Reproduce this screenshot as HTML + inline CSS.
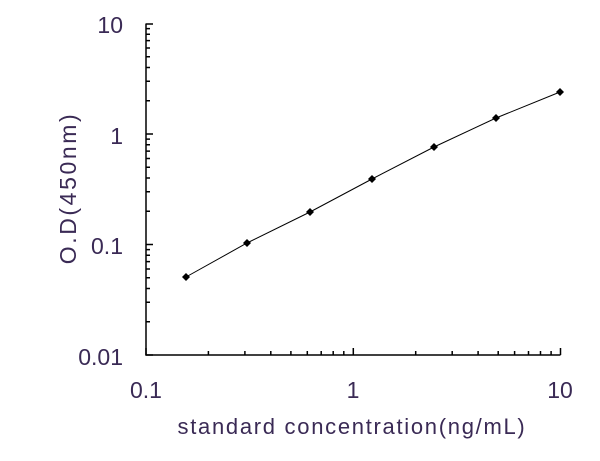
<!DOCTYPE html>
<html><head><style>body{margin:0;background:#fff}svg{display:block}text{font-family:"Liberation Sans",sans-serif;fill:#3a2a55}</style></head>
<body>
<svg width="600" height="461" viewBox="0 0 600 461">
<defs>
<path id="yd" d="M146 0h7M146 -33.3h4M146 -52.7h4M146 -66.5h4M146 -77.2h4M146 -86h4M146 -93.4h4M146 -99.8h4M146 -105.4h4"/>
<path id="xd" d="M0 355v-7M62.4 355v-4M98.9 355v-4M124.8 355v-4M144.9 355v-4M161.3 355v-4M175.2 355v-4M187.2 355v-4M197.8 355v-4"/>
</defs>
<g stroke="#000" stroke-width="1.5" fill="none">
<path d="M146 23.5V355H560.5"/>
<path d="M146 24h7M560.5 355v-7"/>
<use href="#yd" transform="translate(0,355)"/>
<use href="#yd" transform="translate(0,244.5)"/>
<use href="#yd" transform="translate(0,134)"/>
<use href="#xd" transform="translate(146,0)"/>
<use href="#xd" transform="translate(353.3,0)"/>
</g>
<polyline fill="none" stroke="#000" stroke-width="1" points="186,277 247,243 310,212 372,179 434,147 496,118 560,92"/>
<g fill="#000">
<path d="M186 273l4 4-4 4-4-4z"/><path d="M247 239l4 4-4 4-4-4z"/><path d="M310 208l4 4-4 4-4-4z"/><path d="M372 175l4 4-4 4-4-4z"/><path d="M434 143l4 4-4 4-4-4z"/><path d="M496 114l4 4-4 4-4-4z"/><path d="M560 88l4 4-4 4-4-4z"/>
</g>
<g font-size="23" text-anchor="end">
<text x="123" y="33">10</text><text x="123" y="144">1</text><text x="123" y="254">0.1</text><text x="123" y="365">0.01</text>
</g>
<g font-size="23" text-anchor="middle">
<text x="146" y="398">0.1</text><text x="353" y="398">1</text><text x="560" y="398">10</text>
</g>
<text x="352" y="434" font-size="22" letter-spacing="1.7" text-anchor="middle">standard concentration(ng/mL)</text>
<text transform="translate(76,188) rotate(-90)" font-size="23" letter-spacing="2.6" text-anchor="middle">O.D(450nm)</text>
</svg>
</body></html>
